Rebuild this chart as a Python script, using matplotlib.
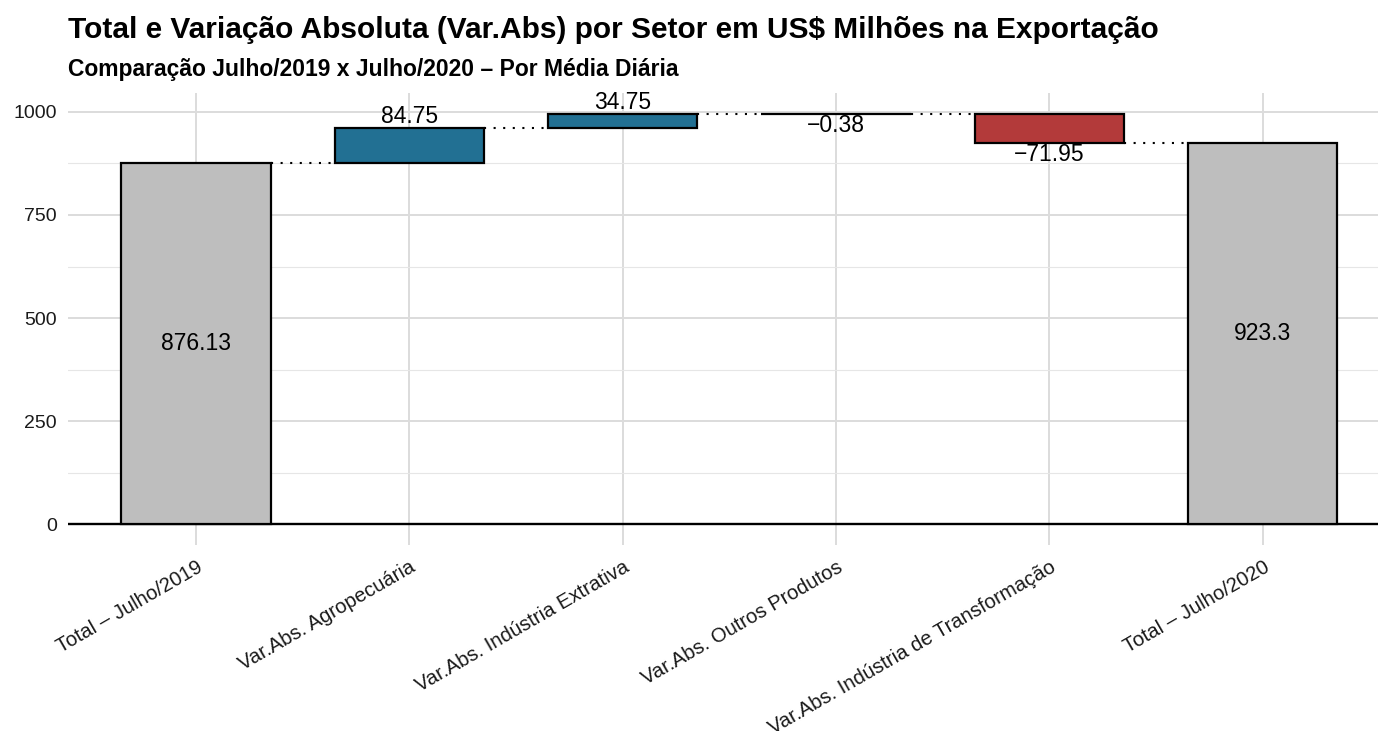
import matplotlib
matplotlib.use("Agg")
import matplotlib.pyplot as plt
import numpy as np

plt.rcParams['font.family'] = ['Liberation Sans', 'DejaVu Sans']

categories = ['Total – Julho/2019', 'Var.Abs. Agropecuária', 'Var.Abs. Indústria Extrativa',
              'Var.Abs. Outros Produtos', 'Var.Abs. Indústria de Transformação', 'Total – Julho/2020']
values = [876.13, 84.75, 34.75, -0.38, -71.95, 923.3]
kinds = ['total', 'delta', 'delta', 'delta', 'delta', 'total']
labels = ['876.13', '84.75', '34.75', '\u22120.38', '\u221271.95', '923.3']

title = 'Total e Variação Absoluta (Var.Abs) por Setor em US$ Milhões na Exportação'
subtitle = 'Comparação Julho/2019 x Julho/2020 \u2013 Por Média Diária'

c_total = '#BEBEBE'
c_pos = '#227093'
c_neg = '#B33A3A'

W, H = 1378, 731
fig = plt.figure(figsize=(W / 100, H / 100), dpi=100)
ax = fig.add_axes([68 / W, 1 - 545 / H, (W - 68) / W, (545 - 93) / H])

x = np.arange(len(categories))
bw = 0.70
bottoms, heights, colors, ends = [], [], [], []
cum = 0.0
for v, k in zip(values, kinds):
    if k == 'total':
        bottoms.append(0.0)
        heights.append(v)
        colors.append(c_total)
        cum = v
    else:
        bottoms.append(cum)
        heights.append(v)
        colors.append(c_pos if v >= 0 else c_neg)
        cum = cum + v
    ends.append(cum)

ax.set_axisbelow(True)
ax.bar(x, heights, bottom=bottoms, width=bw, color=colors, edgecolor='black',
       linewidth=1.6, zorder=3)

# connectors
for i in range(len(x) - 1):
    ax.plot([x[i] + bw / 2, x[i + 1] - bw / 2], [ends[i], ends[i]], color='black',
            lw=1.5, linestyle=(0, (1, 3.6)), zorder=2)

# labels
for i, (v, k, b, lab) in enumerate(zip(values, kinds, bottoms, labels)):
    if k == 'total':
        ax.text(x[i], v / 2, lab, ha='center', va='center', fontsize=16.5, color='black', zorder=4)
    elif v >= 0:
        ax.text(x[i], b + v, lab, ha='center', va='bottom', fontsize=16.5, color='black', zorder=4)
    else:
        ax.text(x[i], b + v, lab, ha='center', va='top', fontsize=16.5, color='black', zorder=4)

ax.set_xlim(-0.6, 5.54)
ax.set_ylim(-49.8, 1045.6)
ax.set_yticks([0, 250, 500, 750, 1000])
ax.set_yticks([125, 375, 625, 875], minor=True)
ax.set_xticks(x)
ax.set_xticklabels(categories, rotation=30, ha='right', va='top', rotation_mode='anchor')
ax.tick_params(axis='both', which='both', length=0, labelcolor='#1a1a1a')
ax.tick_params(axis='y', pad=8, labelsize=14)
ax.tick_params(axis='x', pad=9, labelsize=14.6)

ax.grid(which='major', axis='both', color='#DCDCDC', lw=1.4)
ax.grid(which='minor', axis='y', color='#E6E6E6', lw=0.8)
for s in ax.spines.values():
    s.set_visible(False)
ax.axhline(0, color='black', lw=1.7, zorder=2.5)

fig.text(68 / W, 1 - 38 / H, title, fontsize=21.5, fontweight='bold', ha='left', va='baseline')
fig.text(68 / W, 1 - 76 / H, subtitle, fontsize=16.5, fontweight='bold', ha='left', va='baseline')

fig.savefig('out.png', dpi=100, facecolor='white')
